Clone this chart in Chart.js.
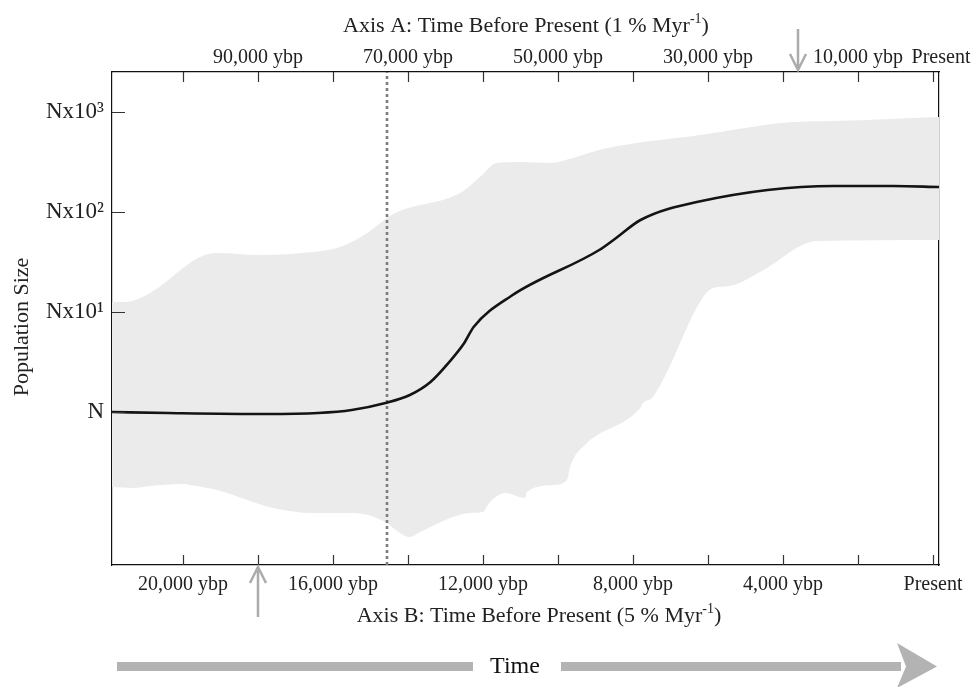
<!DOCTYPE html>
<html>
<head>
<meta charset="utf-8">
<script src="https://cdn.jsdelivr.net/npm/chart.js@4.4.1/dist/chart.umd.min.js"></script>
<style>
html, body { margin: 0; padding: 0; background: #fff; }
</style>
</head>
<body>
<canvas id="chart" width="977" height="687"></canvas>
<script>
// x values are years before present on axis B (5 % Myr-1); axis A is 5x that
// y values are log10 of population size relative to N
const medianYears = [21900, 20400, 17800, 16400, 15500, 14600, 13950, 13400, 12900, 12500, 12250, 11250, 8900, 8450, 7800, 6300, 2650, 1050, -160]
const medianLog = [0.00, -0.01, -0.02, -0.01, 0.02, 0.09, 0.17, 0.30, 0.50, 0.69, 0.85, 1.16, 1.62, 1.74, 1.92, 2.10, 2.26, 2.26, 2.25]

const upperYears = [21900, 21550, 20880, 19550, 19100, 17950, 16530, 15810, 15090, 14560, 14290, 12610, 12080, 11630, 11010, 10210, 9600, 8800, 6210, 3730, 2670, -160]
const upperLog = [1.10, 1.10, 1.19, 1.55, 1.59, 1.57, 1.60, 1.65, 1.79, 1.94, 2.00, 2.19, 2.35, 2.49, 2.50, 2.49, 2.54, 2.63, 2.77, 2.90, 2.91, 2.95]

const lowerYears = [21900, 21330, 20880, 20000, 19810, 19090, 17600, 16530, 15470, 14560, 14400, 13950, 13680, 12350, 12000, 11890, 11760, 11410, 10880, 10830, 10130, 9760, 9680, 9230, 9070, 7810, 7730, 7470, 6130, 5870, 5410, 4610, 3090, -160]
const lowerLog = [-0.75, -0.76, -0.74, -0.72, -0.73, -0.78, -0.96, -1.01, -1.01, -1.11, -1.16, -1.25, -1.20, -1.01, -1.00, -0.94, -0.88, -0.81, -0.86, -0.80, -0.73, -0.68, -0.55, -0.31, -0.26, 0.04, 0.09, 0.15, 1.15, 1.24, 1.26, 1.40, 1.71, 1.72]

const eventYear = 14560
const markerYearA = 18000
const markerYearB = 18000

const yMin = -1.53
const yMax = 3.40
const xMin = -160
const xMax = 21893
const rateRatio = 5

const yTickValues = [0, 1, 2, 3]
const yTickLabels = ['N', 'Nx10\u00b9', 'Nx10\u00b2', 'Nx10\u00b3']

const axisBTicks = [0, 2000, 4000, 6000, 8000, 10000, 12000, 14000, 16000, 18000, 20000]
const axisBLabelValues = [0, 4000, 8000, 12000, 16000, 20000]
const axisBLabels = ['Present', '4,000 ybp', '8,000 ybp', '12,000 ybp', '16,000 ybp', '20,000 ybp']

const axisATicks = [0, 10000, 20000, 30000, 40000, 50000, 60000, 70000, 80000, 90000, 100000]
const axisALabelValues = [0, 10000, 30000, 50000, 70000, 90000]
const axisALabels = ['Present', '10,000 ybp', '30,000 ybp', '50,000 ybp', '70,000 ybp', '90,000 ybp']

const serif = '"Liberation Serif", "DejaVu Serif", serif'

function toPoints(xs, ys) {
	return xs.map((x, i) => ({ x: x, y: ys[i] }))
}

function supText(ctx, main, sup, tail, cx, base, size) {
	ctx.font = size + 'px ' + serif
	const w1 = ctx.measureText(main).width
	const w3 = ctx.measureText(tail).width
	const small = Math.round(size * 0.62) + 'px ' + serif
	ctx.font = small
	const w2 = ctx.measureText(sup).width
	let x = cx - (w1 + w2 + w3) / 2
	ctx.textAlign = 'left'
	ctx.textBaseline = 'alphabetic'
	ctx.font = size + 'px ' + serif
	ctx.fillText(main, x, base)
	x += w1
	ctx.font = small
	ctx.fillText(sup, x, base - size * 0.4)
	x += w2
	ctx.font = size + 'px ' + serif
	ctx.fillText(tail, x, base)
}

function grayArrow(ctx, x, from, tip) {
	const dir = tip > from ? 1 : -1
	ctx.beginPath()
	ctx.moveTo(x, from)
	ctx.lineTo(x, tip)
	ctx.moveTo(x - 8, tip - dir * 16)
	ctx.lineTo(x, tip)
	ctx.lineTo(x + 8, tip - dir * 16)
	ctx.stroke()
}

const extras = {
	id: 'extras',
	afterDraw(chart) {
		const { ctx, chartArea: a, scales } = chart
		const xB = scales.x
		const xA = scales.x2
		const y = scales.y
		ctx.save()

		// ticks pointing into the plot
		ctx.strokeStyle = '#333'
		ctx.lineWidth = 1.2
		ctx.beginPath()
		axisBTicks.forEach(v => {
			const px = Math.round(xB.getPixelForValue(v)) + 0.5
			ctx.moveTo(px, a.bottom)
			ctx.lineTo(px, a.bottom - 10)
		})
		axisATicks.forEach(v => {
			const px = Math.round(xA.getPixelForValue(v)) + 0.5
			ctx.moveTo(px, a.top)
			ctx.lineTo(px, a.top + 10)
		})
		yTickValues.forEach(v => {
			const py = Math.round(y.getPixelForValue(v)) + 0.5
			ctx.moveTo(a.left, py)
			ctx.lineTo(a.left + 13, py)
		})
		ctx.stroke()

		// axis A labels
		ctx.fillStyle = '#222'
		ctx.font = '20px ' + serif
		ctx.textAlign = 'center'
		ctx.textBaseline = 'alphabetic'
		axisALabelValues.forEach((v, i) => {
			const shift = v === 0 ? 8 : 0
			ctx.fillText(axisALabels[i], xA.getPixelForValue(v) + shift, 63)
		})

		// axis titles
		supText(ctx, 'Axis A: Time Before Present (1 % Myr', '-1', ')', 526, 32, 22)
		supText(ctx, 'Axis B: Time Before Present (5 % Myr', '-1', ')', 539, 622, 22)

		ctx.save()
		ctx.translate(28, 327)
		ctx.rotate(-Math.PI / 2)
		ctx.font = '22px ' + serif
		ctx.textAlign = 'center'
		ctx.fillText('Population Size', 0, 0)
		ctx.restore()

		// gray marker arrows
		ctx.strokeStyle = '#ababab'
		ctx.lineWidth = 2.5
		grayArrow(ctx, xA.getPixelForValue(markerYearA), 29, 70)
		grayArrow(ctx, xB.getPixelForValue(markerYearB), 617, 567)

		// time arrow
		ctx.fillStyle = '#b3b3b3'
		ctx.fillRect(117, 662, 356, 9)
		ctx.fillRect(561, 662, 340, 9)
		ctx.beginPath()
		ctx.moveTo(897, 643)
		ctx.lineTo(937, 666.5)
		ctx.lineTo(897, 688)
		ctx.lineTo(906, 666.5)
		ctx.closePath()
		ctx.fill()
		ctx.fillStyle = '#111'
		ctx.font = '24px ' + serif
		ctx.textAlign = 'center'
		ctx.fillText('Time', 515, 673)

		ctx.restore()
	},
}

const chartData = {
	datasets: [
		{
			data: toPoints(medianYears, medianLog),
			borderColor: '#141414',
			borderWidth: 2.6,
			pointRadius: 0,
			cubicInterpolationMode: 'monotone',
			fill: false,
		},
		{
			data: [{ x: eventYear, y: yMin }, { x: eventYear, y: yMax }],
			borderColor: '#7d7d7d',
			borderWidth: 2.6,
			borderDash: [3, 3],
			pointRadius: 0,
			fill: false,
		},
		{
			data: toPoints(lowerYears, lowerLog),
			borderWidth: 0,
			pointRadius: 0,
			cubicInterpolationMode: 'monotone',
			fill: false,
		},
		{
			data: toPoints(upperYears, upperLog),
			borderWidth: 0,
			pointRadius: 0,
			cubicInterpolationMode: 'monotone',
			backgroundColor: '#ebebeb',
			fill: '-1',
		},
	],
}

const optionsData = {
	responsive: false,
	animation: false,
	layout: { padding: { left: 0, right: 38, top: 0, bottom: 0 } },
	plugins: {
		legend: { display: false },
		tooltip: { enabled: false },
	},
	scales: {
		x: {
			type: 'linear',
			position: 'bottom',
			reverse: true,
			min: xMin,
			max: xMax,
			afterFit: s => { s.height = 122 },
			afterBuildTicks: s => { s.ticks = axisBLabelValues.map(v => ({ value: v })) },
			grid: { display: false, drawTicks: false },
			border: { display: true, color: '#111', width: 1.2 },
			ticks: {
				autoSkip: false,
				maxRotation: 0,
				padding: 8,
				color: '#222',
				font: { family: serif, size: 20 },
				callback: (v, i) => axisBLabels[i],
			},
		},
		x2: {
			type: 'linear',
			position: 'top',
			reverse: true,
			min: xMin * rateRatio,
			max: xMax * rateRatio,
			afterFit: s => { s.height = 72 },
			grid: { display: false, drawTicks: false },
			border: { display: true, color: '#111', width: 1.2 },
			ticks: { display: false },
		},
		y: {
			type: 'linear',
			position: 'left',
			min: yMin,
			max: yMax,
			afterFit: s => { s.width = 112 },
			afterBuildTicks: s => { s.ticks = yTickValues.map(v => ({ value: v })) },
			grid: { display: false, drawTicks: false },
			border: { display: true, color: '#111', width: 1.2 },
			ticks: {
				autoSkip: false,
				padding: 8,
				color: '#222',
				font: { family: serif, size: 23 },
				callback: (v, i) => yTickLabels[i],
			},
		},
		y2: {
			type: 'linear',
			position: 'right',
			min: yMin,
			max: yMax,
			afterFit: s => { s.width = 0 },
			grid: { display: false, drawTicks: false },
			border: { display: true, color: '#111', width: 1.2 },
			ticks: { display: false },
		},
	},
}

new Chart('chart', { type: 'line', data: chartData, options: optionsData, plugins: [extras] })
</script>
</body>
</html>
